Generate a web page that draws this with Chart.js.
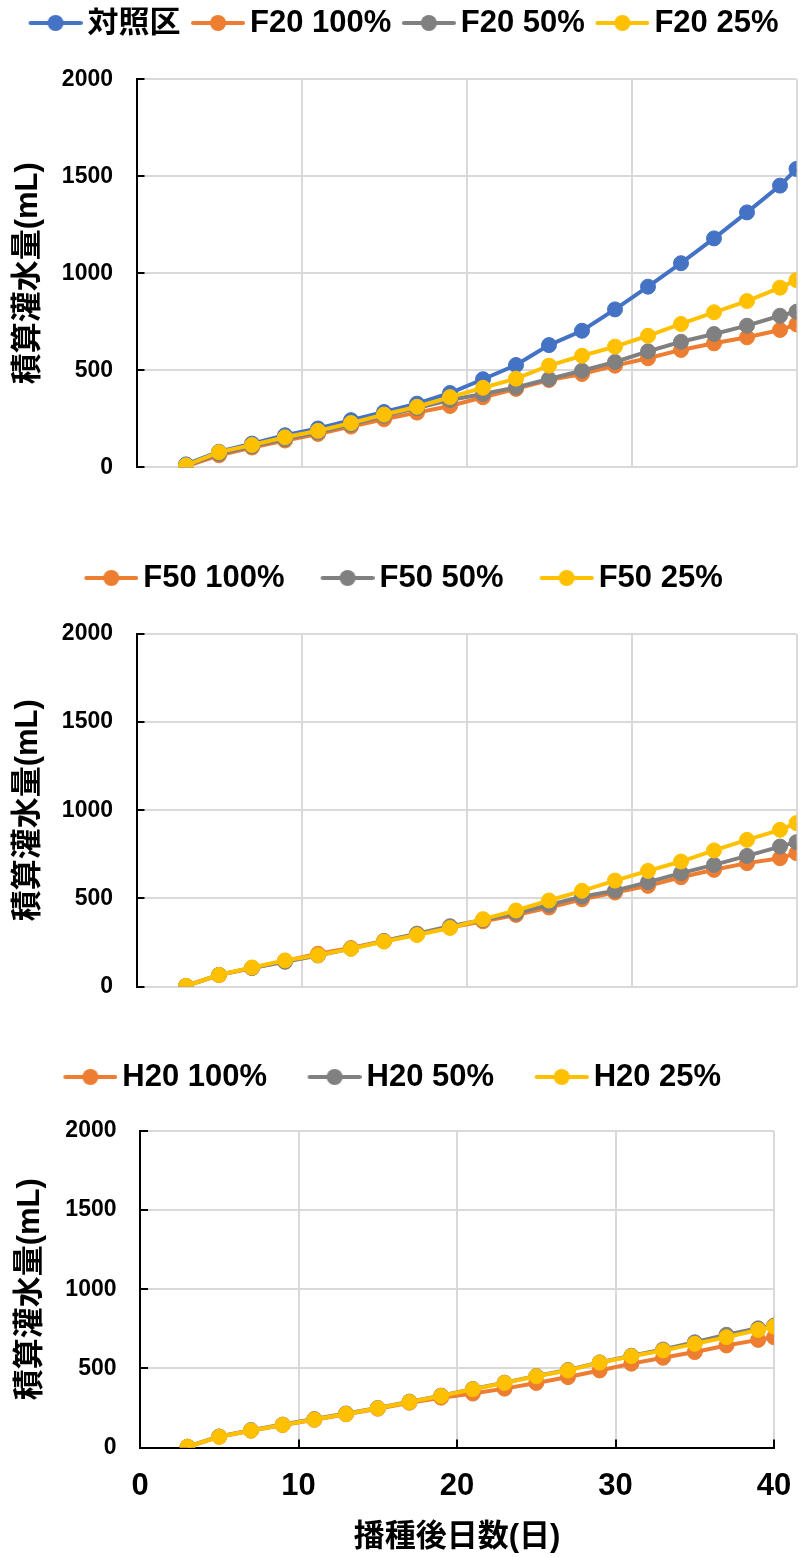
<!DOCTYPE html>
<html lang="ja">
<head>
<meta charset="UTF-8">
<title>積算灌水量</title>
<script src="https://cdn.jsdelivr.net/npm/chart.js"></script>
<style>
    body {
        margin: 0;
        background: #fff;
    }

    #wrap {
        position: relative;
        width: 806px;
        height: 1557px;
    }

    canvas {
        position: absolute;
        left: 0;
    }
</style>
</head>
<body>
<div id="wrap">
    <canvas id="chartF20" width="806" height="500" style="top:0px"></canvas>
    <canvas id="chartF50" width="806" height="480" style="top:530px"></canvas>
    <canvas id="chartH20" width="806" height="530" style="top:1027px"></canvas>
</div>

<script>
    // 播種後日数
    const days = [3, 5, 7, 9, 11, 13, 15, 17, 19, 21, 23, 25, 27, 29, 31, 33, 35, 37, 39, 40];
    const yTicks = [0, 500, 1000, 1500, 2000];
    const xTicks = [0, 10, 20, 30, 40];

    // 積算灌水量 (mL)
    const control = [15, 80, 122, 165, 200, 243, 285, 328, 383, 454, 527, 630, 704, 814, 931, 1052, 1180, 1314, 1452, 1538];
    const f20_100 = [5, 62, 102, 138, 172, 210, 248, 282, 316, 361, 404, 450, 481, 524, 562, 605, 639, 670, 708, 737];
    const f20_50 = [8, 70, 108, 145, 180, 220, 265, 305, 347, 378, 412, 455, 498, 543, 598, 647, 687, 730, 781, 802];
    const f20_25 = [10, 78, 115, 155, 188, 228, 272, 312, 362, 410, 457, 524, 575, 622, 678, 739, 799, 857, 926, 965];

    const f50_100 = [3, 65, 105, 145, 186, 218, 258, 296, 335, 370, 406, 448, 495, 533, 571, 620, 662, 700, 728, 757];
    const f50_50 = [3, 66, 105, 140, 176, 215, 258, 300, 342, 378, 416, 463, 510, 544, 592, 643, 690, 741, 794, 819];
    const f50_25 = [3, 65, 108, 148, 178, 214, 255, 292, 332, 382, 431, 488, 543, 601, 656, 709, 772, 832, 889, 927];

    const h20_100 = [5, 68, 106, 142, 175, 210, 245, 283, 315, 341, 372, 408, 445, 487, 530, 567, 603, 645, 680, 697];
    const h20_50 = [5, 70, 110, 145, 180, 215, 250, 290, 328, 370, 410, 452, 490, 538, 580, 619, 665, 712, 753, 770];
    const h20_25 = [5, 68, 107, 143, 177, 212, 248, 287, 325, 368, 408, 450, 487, 536, 577, 613, 655, 697, 743, 764];

    const BLUE = '#4472C4';
    const ORANGE = '#ED7D31';
    const GRAY = '#808080';
    const YELLOW = '#FFC000';

    const FONT = "'Liberation Sans', 'Noto Sans CJK JP', sans-serif";

    // legend symbol: short line with a dot, like Excel
    function legendMarker(color) {
        const c = document.createElement('canvas');
        c.width = 75;
        c.height = 20;
        const g = c.getContext('2d');
        g.strokeStyle = color;
        g.lineWidth = 4;
        g.lineCap = 'round';
        g.beginPath();
        g.moveTo(23, 10);
        g.lineTo(73, 10);
        g.stroke();
        g.fillStyle = color;
        g.beginPath();
        g.arc(48, 10, 8, 0, Math.PI * 2);
        g.fill();
        return c;
    }

    // extra space between legend and plot
    function legendGap(px) {
        return {
            id: 'legendGap',
            beforeInit(chart) {
                const fit = chart.legend.fit;
                chart.legend.fit = function () {
                    fit.bind(chart.legend)();
                    this.height += px;
                };
            }
        };
    }

    function makeChart(id, series, cfg) {
        const ctx = document.getElementById(id).getContext('2d');

        const xAxis = {
            type: 'linear',
            min: xTicks[0],
            max: xTicks[xTicks.length - 1],
            ticks: { stepSize: xTicks[1] - xTicks[0], display: false },
            grid: { color: '#d9d9d9', lineWidth: 2, drawTicks: false },
            border: { display: false },
            afterFit: (s) => { s.height = 0; }
        };

        if (cfg.showX) {
            xAxis.ticks = {
                stepSize: xTicks[1] - xTicks[0],
                padding: 28,
                color: '#000',
                font: { family: FONT, size: 31, weight: 'bold' }
            };
            xAxis.grid = { color: '#d9d9d9', lineWidth: 2, tickLength: -8, tickColor: '#000', tickWidth: 2 };
            xAxis.border = { color: '#000', width: 2 };
            xAxis.title = {
                display: true,
                text: '播種後日数(日)',
                color: '#000',
                font: { family: FONT, size: 31, weight: 'bold' },
                padding: { top: 0, bottom: 1.4 }
            };
            xAxis.afterFit = (s) => {
                s.height = cfg.xHeight;
                s.paddingLeft = 0;
                s.paddingRight = 0;
            };
        }

        return new Chart(ctx, {
            type: 'line',
            data: {
                datasets: series.map((s, i) => ({
                    label: s.label,
                    data: days.map((d, j) => ({ x: d, y: s.values[j] })),
                    borderColor: s.color,
                    backgroundColor: s.color,
                    pointBackgroundColor: s.color,
                    pointBorderColor: s.color,
                    borderWidth: 4,
                    pointRadius: 7.5,
                    pointBorderWidth: 1,
                    tension: 0,
                    order: series.length - i
                }))
            },
            options: {
                responsive: false,
                animation: false,
                events: [],
                layout: { padding: cfg.padding },
                plugins: {
                    tooltip: { enabled: false },
                    legend: {
                        position: 'top',
                        labels: {
                            usePointStyle: true,
                            pointStyleWidth: 54,
                            padding: cfg.legendPad,
                            color: '#000',
                            font: { family: FONT, size: 31, weight: 'bold' },
                            generateLabels: (chart) => chart.data.datasets.map((ds, i) => ({
                                text: ds.label,
                                fillStyle: ds.borderColor,
                                strokeStyle: ds.borderColor,
                                lineWidth: 0,
                                pointStyle: legendMarker(ds.borderColor),
                                rotation: 0,
                                hidden: false,
                                fontColor: '#000',
                                datasetIndex: i
                            }))
                        }
                    }
                },
                scales: {
                    x: xAxis,
                    y: {
                        min: yTicks[0],
                        max: yTicks[yTicks.length - 1],
                        ticks: {
                            stepSize: yTicks[1] - yTicks[0],
                            padding: 31.5,
                            color: '#000',
                            font: { family: FONT, size: 23, weight: 'bold' },
                            callback: (v) => String(v)
                        },
                        grid: { color: '#d9d9d9', lineWidth: 2, tickLength: -8, tickColor: '#000', tickWidth: 2 },
                        border: { color: '#000', width: 2 },
                        title: {
                            display: true,
                            text: '積算灌水量(mL)',
                            color: '#000',
                            font: { family: FONT, size: 31, weight: 'bold' },
                            padding: { top: cfg.yTitlePad, bottom: 0 }
                        },
                        afterFit: (s) => {
                            s.width = cfg.yWidth;
                            s.paddingTop = 0;
                            s.paddingBottom = 0;
                        }
                    }
                }
            },
            plugins: [legendGap(cfg.gap)]
        });
    }

    makeChart('chartF20', [
        { label: '対照区', values: control, color: BLUE },
        { label: 'F20 100%', values: f20_100, color: ORANGE },
        { label: 'F20 50%', values: f20_50, color: GRAY },
        { label: 'F20 25%', values: f20_25, color: YELLOW }
    ], {
        padding: { top: 7.5, right: 9.5, bottom: 32.7, left: 0 },
        legendPad: 0, gap: 30.8, yWidth: 136.5, yTitlePad: 9.4
    });

    makeChart('chartF50', [
        { label: 'F50 100%', values: f50_100, color: ORANGE },
        { label: 'F50 50%', values: f50_50, color: GRAY },
        { label: 'F50 25%', values: f50_25, color: YELLOW }
    ], {
        padding: { top: 7, right: 9.5, bottom: 23.5, left: 0 },
        legendPad: 25.5, gap: 30.5, yWidth: 136.5, yTitlePad: 9.4
    });

    makeChart('chartH20', [
        { label: 'H20 100%', values: h20_100, color: ORANGE },
        { label: 'H20 50%', values: h20_50, color: GRAY },
        { label: 'H20 25%', values: h20_25, color: YELLOW }
    ], {
        padding: { top: 4.5, right: 32, bottom: 0, left: 0 },
        legendPad: 30, gap: 28.5, yWidth: 140, yTitlePad: 11.4,
        showX: true, xHeight: 109.5
    });
</script>
</body>
</html>
